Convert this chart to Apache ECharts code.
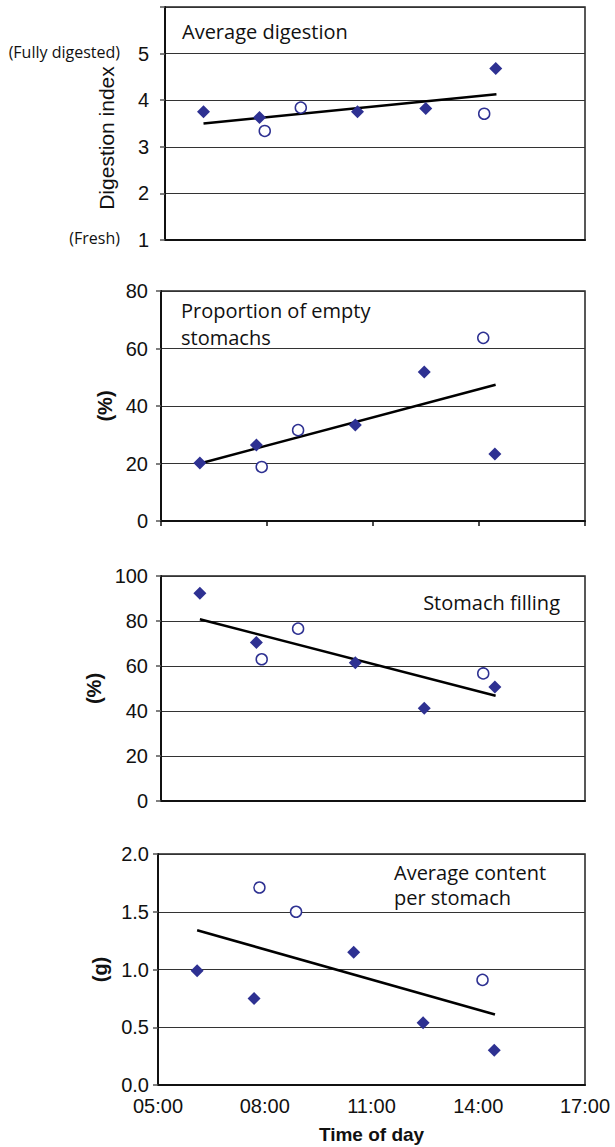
<!DOCTYPE html>
<html>
<head>
<meta charset="utf-8">
<script src="https://cdn.jsdelivr.net/npm/echarts@6/dist/echarts.min.js"></script>
<style>
  html, body { margin: 0; padding: 0; background: #fff; }
  #chart { width: 615px; height: 1147px; }
</style>
</head>
<body>
<div id="chart"></div>
<script>
// time of day in hours (decimal)
var diamondTimes = [6.1, 7.7, 10.5, 12.45, 14.45];
var circleTimes = [7.85, 8.88, 14.12];
var trendTimes = [6.1, 14.47];

// panel 1: average digestion index
var digestDiamonds = [3.75, 3.63, 3.75, 3.82, 4.68];
var digestCircles = [3.34, 3.84, 3.71];
var digestTrend = [3.5, 4.13];

// panel 2: proportion of empty stomachs (%)
var emptyDiamonds = [20.2, 26.4, 33.4, 51.8, 23.3];
var emptyCircles = [18.8, 31.6, 63.7];
var emptyTrend = [20.0, 47.4];

// panel 3: stomach filling (%)
var fillDiamonds = [92.3, 70.5, 61.5, 41.2, 50.7];
var fillCircles = [63.0, 76.6, 56.7];
var fillTrend = [80.8, 46.8];

// panel 4: average content per stomach (g)
var contentDiamonds = [0.99, 0.75, 1.15, 0.54, 0.30];
var contentCircles = [1.71, 1.50, 0.91];
var contentTrend = [1.34, 0.61];

var xTickLabels = ['05:00', '08:00', '11:00', '14:00', '17:00'];

var navy = '#2E3192'
var tickFont = 'Liberation Sans, Arial, sans-serif'
var noteFont = 'Open Sans, Noto Sans, sans-serif'

function pairs(xs, ys) {
  return xs.map(function(x, i) { return [x, ys[i]] })
}

var grids = [
  {left: 165, width: 420, top: 7, height: 233},
  {left: 161, width: 424, top: 291, height: 230},
  {left: 161, width: 424, top: 576, height: 225},
  {left: 158, width: 427, top: 854, height: 231}
]

var panels = [
  {min: 1, max: 6, interval: 1, margin: 16, fmt: function(v) { return v >= 6 ? '' : String(v) }, d: digestDiamonds, c: digestCircles, t: digestTrend},
  {min: 0, max: 80, interval: 20, margin: 13, fmt: function(v) { return String(v) }, d: emptyDiamonds, c: emptyCircles, t: emptyTrend},
  {min: 0, max: 100, interval: 20, margin: 13, fmt: function(v) { return String(v) }, d: fillDiamonds, c: fillCircles, t: fillTrend},
  {min: 0, max: 2, interval: 0.5, margin: 9, fmt: function(v) { return v.toFixed(1) }, d: contentDiamonds, c: contentCircles, t: contentTrend}
]

var xAxes = [], yAxes = [], series = []
panels.forEach(function(p, i) {
  xAxes.push({
    type: 'value', gridIndex: i, min: 5, max: 17, interval: 3,
    axisLine: {show: true, lineStyle: {color: '#111', width: 2}},
    axisTick: {show: i === 1, length: 5, lineStyle: {color: '#111', width: 1.5}},
    axisLabel: {
      show: i === 3, color: '#111', fontFamily: tickFont, fontSize: 20, margin: 11,
      formatter: function(v) { return xTickLabels[Math.round((v - 5) / 3)] }
    },
    splitLine: {show: false},
    name: i === 3 ? 'Time of day' : '',
    nameLocation: 'middle', nameGap: 40,
    nameTextStyle: {color: '#111', fontFamily: tickFont, fontSize: 19, fontWeight: 'bold'}
  })
  yAxes.push({
    type: 'value', gridIndex: i, min: p.min, max: p.max, interval: p.interval,
    axisLine: {show: true, lineStyle: {color: '#111', width: 2}},
    axisTick: {show: true, length: 5, lineStyle: {color: '#555', width: 1.5}},
    axisLabel: {color: '#111', fontFamily: tickFont, fontSize: 20, margin: p.margin, formatter: p.fmt},
    splitLine: {show: true, lineStyle: {color: '#333', width: 1}},
    name: i === 0 ? '' : (i === 3 ? '(g)' : '(%)'),
    nameLocation: 'middle', nameRotate: 90,
    nameGap: i === 3 ? 42 : 45,
    nameTextStyle: {color: '#111', fontFamily: tickFont, fontSize: 20, fontWeight: 'bold'}
  })
  series.push({
    type: 'line', xAxisIndex: i, yAxisIndex: i, data: pairs(trendTimes, p.t),
    showSymbol: false, symbol: 'none', lineStyle: {color: '#000', width: 2.5}, z: 2
  })
  series.push({
    type: 'scatter', xAxisIndex: i, yAxisIndex: i, data: pairs(diamondTimes, p.d),
    symbol: 'diamond', symbolSize: 13, itemStyle: {color: navy, opacity: 1}, z: 3
  })
  series.push({
    type: 'scatter', xAxisIndex: i, yAxisIndex: i, data: pairs(circleTimes, p.c),
    symbol: 'circle', symbolSize: 11,
    itemStyle: {color: '#fff', borderColor: navy, borderWidth: 1.5, opacity: 1}, z: 3
  })
})

grids.forEach(function(g) {
  g.show = true
  g.borderColor = '#222'
  g.borderWidth = 1.5
  g.backgroundColor = 'transparent'
})

function note(text, x, y, size, align) {
  return {
    type: 'text', x: x, y: y, z: 10,
    style: {text: text, fill: '#111', font: size + 'px ' + noteFont, align: align || 'left', verticalAlign: 'middle'}
  }
}

var chart = echarts.init(document.getElementById('chart'), null, {renderer: 'svg'})
chart.setOption({
  backgroundColor: '#fff',
  animation: false,
  grid: grids,
  xAxis: xAxes,
  yAxis: yAxes,
  series: series,
  graphic: [
    note('Average digestion', 182, 31, 20),
    note('(Fully digested)', 120, 52, 16, 'right'),
    note('(Fresh)', 120, 238, 16, 'right'),
    {
      type: 'text', x: 106, y: 138, rotation: Math.PI / 2, z: 10,
      style: {text: 'Digestion index', fill: '#111', font: '21px ' + tickFont, align: 'center', verticalAlign: 'middle'}
    },
    note('Proportion of empty', 181, 310, 20),
    note('stomachs', 181, 337, 20),
    note('Stomach filling', 560, 602, 20, 'right'),
    note('Average content', 394, 872, 20),
    note('per stomach', 394, 897, 20)
  ]
})
</script>
</body>
</html>
